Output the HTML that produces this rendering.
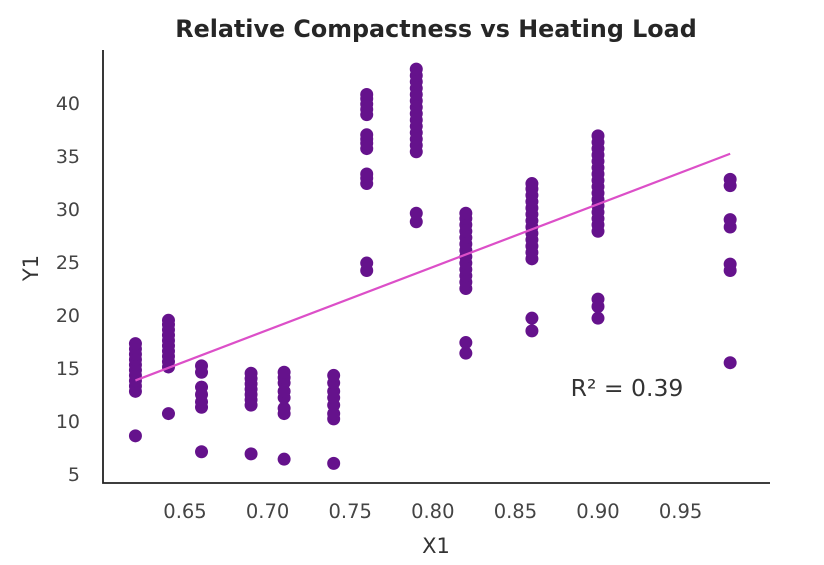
<!DOCTYPE html>
<html><head><meta charset="utf-8"><style>
body{margin:0;background:#fff;width:824px;height:560px;overflow:hidden}
svg{font-family:"DejaVu Sans","Liberation Sans",sans-serif}
</style></head><body>
<svg id="chart" width="824" height="560">
<text x="436" y="37" text-anchor="middle" font-size="23.8" font-weight="bold" fill="#262626">Relative Compactness vs Heating Load</text>
<g id="pts"></g>
<g id="axes"></g>
</svg>
<script>
const xCats=[0.62,0.64,0.66,0.69,0.71,0.74,0.76,0.79,0.82,0.86,0.90,0.98];
const yVals=[
[8.6,12.8,13.3,13.8,14.3,14.8,15.3,15.8,16.3,16.8,17.3],
[10.7,15.1,15.6,16.1,16.6,17.1,17.6,18.1,18.6,19.1,19.5],
[7.1,11.3,11.8,12.5,13.2,14.6,15.2],
[6.9,11.5,12,12.5,13,13.5,14,14.5],
[6.4,10.7,11.2,12.2,12.8,13.6,14.1,14.6],
[6.0,10.2,10.7,11.5,12.2,12.8,13.6,14.3],
[24.2,24.9,32.4,32.9,33.3,35.7,36.2,36.6,37,38.9,39.4,39.9,40.4,40.8],
[28.8,29.6,35.4,36,36.6,37.2,37.8,38.4,39,39.6,40.2,40.8,41.4,42,42.6,43.2],
[16.4,17.4,22.5,23.1,23.7,24.3,24.9,25.5,26.1,26.7,27.3,27.9,28.5,29.1,29.6],
[18.5,19.7,25.3,25.9,26.5,27.1,27.7,28.3,28.9,29.5,30.1,30.7,31.3,31.9,32.4],
[19.7,20.8,21.5,27.9,28.5,29.1,29.7,30.3,30.9,31.5,32.1,32.7,33.3,33.9,34.5,35.1,35.7,36.3,36.9],
[15.5,24.2,24.8,28.3,29,32.2,32.8]];
const xTicks=[0.65,0.70,0.75,0.80,0.85,0.90,0.95];
const yTicks=[5,10,15,20,25,30,35,40];
const fit=[59.4,-23.0];
const r2Label="R² = 0.39";
const NS="http://www.w3.org/2000/svg";
const X=v=>185+(v-0.65)*1652;
const Y=v=>474-(v-5)*10.6;
function mk(t,a,p){const e=document.createElementNS(NS,t);for(const k in a)e.setAttribute(k,a[k]);p.appendChild(e);return e;}
const pts=document.getElementById('pts'),axes=document.getElementById('axes');
xCats.forEach((x,i)=>yVals[i].forEach(y=>{
 const c=mk('circle',{cx:X(x),cy:Y(y),r:6.5,fill:'#65128c'},pts);
 
 
}));
const x0=xCats[0],x1=xCats[xCats.length-1];
const ln=mk('line',{x1:X(x0),y1:Y(fit[0]*x0+fit[1]),x2:X(x1),y2:Y(fit[0]*x1+fit[1]),stroke:'#dc4fc8','stroke-width':2.2},pts);


const r2=mk('text',{x:627,y:396,'text-anchor':'middle','font-size':23.5,fill:'#333'},pts);r2.textContent=r2Label;


const ax=mk('path',{d:'M103 50V483H770',fill:'none',stroke:'#222','stroke-width':1.8},axes);


xTicks.forEach(t=>{const e=mk('text',{x:X(t),y:518,'text-anchor':'middle','font-size':19.5,fill:'#444'},axes);e.textContent=t.toFixed(2);
 
 });
yTicks.forEach(t=>{const e=mk('text',{x:80,y:Y(t)+7,'text-anchor':'end','font-size':19,fill:'#444'},axes);e.textContent=t;
 
 });
const xt=mk('text',{x:436,y:553,'text-anchor':'middle','font-size':21,fill:'#333'},axes);xt.textContent='X1';


const yt=mk('text',{x:38,y:268,'text-anchor':'middle','font-size':21,fill:'#333',transform:'rotate(-90 38 268)'},axes);yt.textContent='Y1';


</script>
</body></html>
